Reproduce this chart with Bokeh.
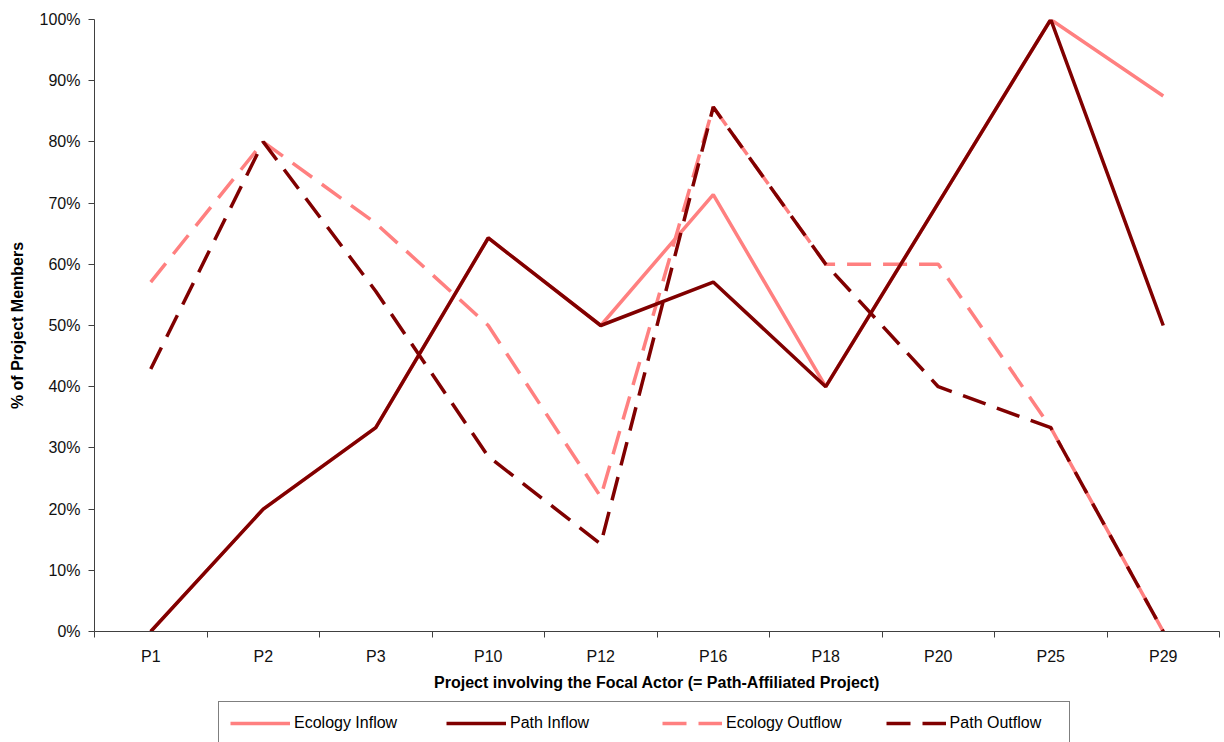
from bokeh.plotting import figure
from bokeh.layouts import column
from bokeh.models import (Range1d, LinearAxis, FixedTicker, NumeralTickFormatter,
                          Legend, LegendItem)
from bokeh.embed import file_html
from bokeh.resources import INLINE

# Projects involving the focal actor (path-affiliated projects)
categories = ["P1", "P2", "P3", "P10", "P12", "P16", "P18", "P20", "P25", "P29"]

# Share of project members (fractions of 1)
ecology_inflow = [0.0, 0.20, 0.333, 0.643, 0.50, 0.714, 0.40, 0.70, 1.00, 0.875]
path_inflow = [0.0, 0.20, 0.333, 0.643, 0.50, 0.571, 0.40, 0.70, 1.00, 0.50]
ecology_outflow = [0.571, 0.80, 0.667, 0.50, 0.22, 0.857, 0.60, 0.60, 0.333, 0.0]
path_outflow = [0.429, 0.80, 0.556, 0.286, 0.143, 0.857, 0.60, 0.40, 0.333, 0.0]

series_labels = ["Ecology Inflow", "Path Inflow", "Ecology Outflow", "Path Outflow"]

y_ticks = [0.0, 0.1, 0.2, 0.3, 0.4, 0.5, 0.6, 0.7, 0.8, 0.9, 1.0]

LIGHT = "#FF8080"
DARK = "#800000"
FONT = "Liberation Sans"
AXIS_COLOR = "#404040"
DASH = "24 12"
LW = 3.5

# line style per series, in legend order
styles = [
    dict(line_color=LIGHT, line_width=LW),
    dict(line_color=DARK, line_width=LW),
    dict(line_color=LIGHT, line_width=LW, line_dash=DASH),
    dict(line_color=DARK, line_width=LW, line_dash=DASH),
]

xs = list(range(len(categories)))

p = figure(frame_width=1125, frame_height=612, output_backend="svg", toolbar_location=None,
           x_range=Range1d(-0.5, len(categories) - 0.5), y_range=Range1d(0, 1),
           x_axis_type=None, y_axis_type=None,
           min_border_left=94, min_border_right=5, min_border_top=19,
           min_border_bottom=61)
p.outline_line_color = None
p.background_fill_color = "white"
p.border_fill_color = "white"

# Left axis: percent of project members
yaxis = LinearAxis(ticker=FixedTicker(ticks=y_ticks),
                   formatter=NumeralTickFormatter(format="0%"),
                   axis_label="% of Project Members")
yaxis.axis_line_color = AXIS_COLOR
yaxis.major_tick_line_color = AXIS_COLOR
yaxis.major_tick_in = 0
yaxis.major_tick_out = 6
yaxis.minor_tick_line_color = None
yaxis.major_label_standoff = 8
yaxis.major_label_text_font = FONT
yaxis.major_label_text_font_size = "16px"
yaxis.major_label_text_color = "#111111"
yaxis.axis_label_text_font = FONT
yaxis.axis_label_text_font_size = "16px"
yaxis.axis_label_text_font_style = "bold"
yaxis.axis_label_text_color = "black"
yaxis.axis_label_standoff = 11
p.add_layout(yaxis, "left")

# Bottom axis: category labels centred, tick marks between categories
xaxis = LinearAxis(ticker=FixedTicker(ticks=xs, minor_ticks=[i - 0.5 for i in range(len(categories) + 1)]),
                   axis_label="Project involving the Focal Actor (= Path-Affiliated Project)")
xaxis.major_label_overrides = {i: c for i, c in zip(xs, categories)}
xaxis.axis_line_color = AXIS_COLOR
xaxis.major_tick_line_color = None
xaxis.major_tick_in = 0
xaxis.major_tick_out = 0
xaxis.minor_tick_line_color = AXIS_COLOR
xaxis.minor_tick_in = 0
xaxis.minor_tick_out = 6
xaxis.major_label_standoff = 10
xaxis.major_label_text_font = FONT
xaxis.major_label_text_font_size = "16px"
xaxis.major_label_text_color = "#111111"
xaxis.axis_label_text_font = FONT
xaxis.axis_label_text_font_size = "16px"
xaxis.axis_label_text_font_style = "bold"
xaxis.axis_label_text_color = "black"
xaxis.axis_label_standoff = 6
p.add_layout(xaxis, "below")

for ys, st in zip([ecology_inflow, ecology_outflow], [styles[0], styles[2]]):
    p.line(xs, ys, **st)
for ys, st in zip([path_inflow, path_outflow], [styles[1], styles[3]]):
    p.line(xs, ys, **st)

# Strip under the chart holding the legend box; its key lines lie outside the view
lg = figure(width=1224, height=50, output_backend="svg", toolbar_location=None,
            x_range=Range1d(0, 1), y_range=Range1d(0, 1),
            x_axis_type=None, y_axis_type=None,
            min_border_left=0, min_border_right=0, min_border_top=0, min_border_bottom=0)
lg.outline_line_color = None
lg.background_fill_color = "white"
lg.border_fill_color = "white"
key_renderers = [lg.line([5, 6], [5, 6], **st) for st in styles]

legend = Legend(items=[LegendItem(label=lab, renderers=[r])
                       for lab, r in zip(series_labels, key_renderers)],
                orientation="horizontal", location=(124, -2))
legend.padding = 11
legend.spacing = 44
legend.margin = 0
legend.glyph_width = 60
legend.glyph_height = 20
legend.label_width = 108
legend.label_standoff = 4
legend.label_text_font = FONT
legend.label_text_font_size = "16px"
legend.label_text_color = "black"
legend.border_line_color = "black"
legend.border_line_width = 1
legend.background_fill_color = "white"
legend.background_fill_alpha = 1
lg.add_layout(legend, "center")

layout = column(p, lg, spacing=0)
open("out.html", "w").write(file_html(layout, INLINE))
